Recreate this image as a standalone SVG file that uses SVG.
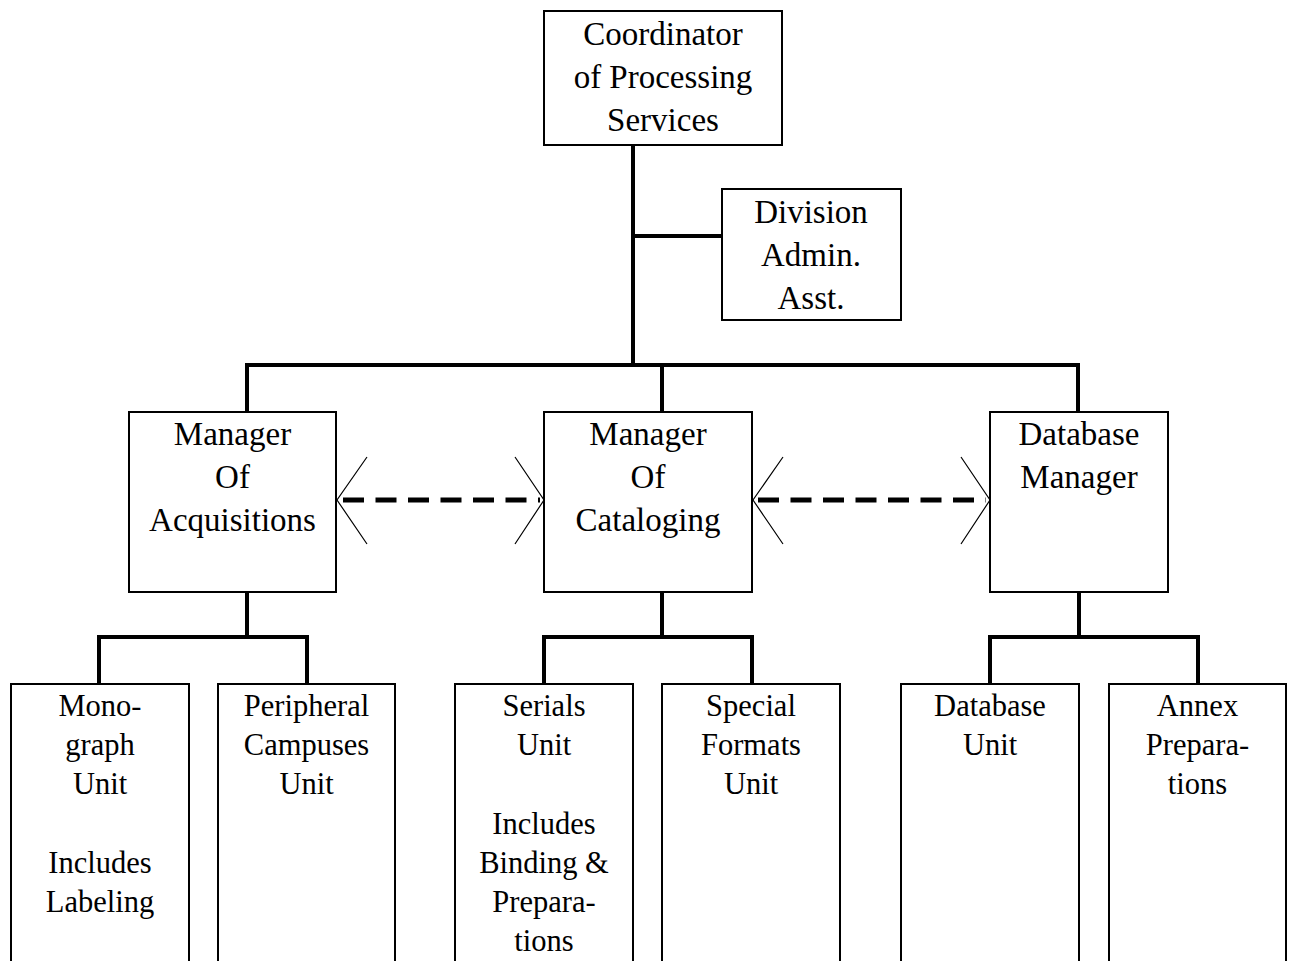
<svg xmlns="http://www.w3.org/2000/svg" width="1289" height="961" viewBox="0 0 1289 961">
<style>
.box{fill:#fff;stroke:#000;stroke-width:2}
.conn{fill:none;stroke:#000;stroke-width:4}
.dash{fill:none;stroke:#000;stroke-width:5;stroke-dasharray:21 11.5}
.head{fill:none;stroke:#000;stroke-width:1.2}
.t1{font-family:"Liberation Serif","Times New Roman",serif;font-size:33px;text-anchor:middle;fill:#000}
.t2{font-family:"Liberation Serif","Times New Roman",serif;font-size:30.5px;text-anchor:middle;fill:#000}
</style>
<rect width="1289" height="961" fill="#fff"/>
<g id="connectors">
<path class="conn" d="M633,145 V365 M633,236 H722 M247,365 H1079 M247,363 V412 M662,363 V412 M1078,363 V412"/>
<path class="conn" d="M247,592 V637 M99,637 H307 M99,635 V684 M307,635 V684"/>
<path class="conn" d="M662,592 V637 M544,637 H752 M544,635 V684 M752,635 V684"/>
<path class="conn" d="M1079,592 V637 M990,637 H1198 M990,635 V684 M1198,635 V684"/>
<line class="dash" x1="343" y1="500" x2="540" y2="500"/>
<line class="dash" x1="758" y1="500" x2="986" y2="500"/>
<path class="head" d="M367,457 L337,500 L367,544 M515,457 L544,500 L515,544"/>
<path class="head" d="M783,457 L753,500 L783,544 M961,457 L990,500 L961,544"/>
</g>
<g id="coordinator">
<rect class="box" x="544" y="11" width="238" height="134"/>
<text class="t1" x="663" y="45">Coordinator</text>
<text class="t1" x="663" y="88">of Processing</text>
<text class="t1" x="663" y="131">Services</text>
</g>
<g id="division-admin">
<rect class="box" x="722" y="189" width="179" height="131"/>
<text class="t1" x="811" y="223">Division</text>
<text class="t1" x="811" y="266">Admin.</text>
<text class="t1" x="811" y="309">Asst.</text>
</g>
<g id="mgr-acquisitions">
<rect class="box" x="129" y="412" width="207" height="180"/>
<text class="t1" x="232.5" y="445">Manager</text>
<text class="t1" x="232.5" y="488">Of</text>
<text class="t1" x="232.5" y="531">Acquisitions</text>
</g>
<g id="mgr-cataloging">
<rect class="box" x="544" y="412" width="208" height="180"/>
<text class="t1" x="648" y="445">Manager</text>
<text class="t1" x="648" y="488">Of</text>
<text class="t1" x="648" y="531">Cataloging</text>
</g>
<g id="db-manager">
<rect class="box" x="990" y="412" width="178" height="180"/>
<text class="t1" x="1079" y="445">Database</text>
<text class="t1" x="1079" y="488">Manager</text>
</g>
<g id="monograph">
<rect class="box" x="11" y="684" width="178" height="290"/>
<text class="t2" x="100" y="716">Mono-</text>
<text class="t2" x="100" y="755">graph</text>
<text class="t2" x="100" y="794">Unit</text>
<text class="t2" x="100" y="873">Includes</text>
<text class="t2" x="100" y="912">Labeling</text>
</g>
<g id="peripheral">
<rect class="box" x="218" y="684" width="177" height="290"/>
<text class="t2" x="306.5" y="716">Peripheral</text>
<text class="t2" x="306.5" y="755">Campuses</text>
<text class="t2" x="306.5" y="794">Unit</text>
</g>
<g id="serials">
<rect class="box" x="455" y="684" width="178" height="290"/>
<text class="t2" x="544" y="716">Serials</text>
<text class="t2" x="544" y="755">Unit</text>
<text class="t2" x="544" y="834">Includes</text>
<text class="t2" x="544" y="873">Binding &amp;</text>
<text class="t2" x="544" y="912">Prepara-</text>
<text class="t2" x="544" y="951">tions</text>
</g>
<g id="special-formats">
<rect class="box" x="662" y="684" width="178" height="290"/>
<text class="t2" x="751" y="716">Special</text>
<text class="t2" x="751" y="755">Formats</text>
<text class="t2" x="751" y="794">Unit</text>
</g>
<g id="database-unit">
<rect class="box" x="901" y="684" width="178" height="290"/>
<text class="t2" x="990" y="716">Database</text>
<text class="t2" x="990" y="755">Unit</text>
</g>
<g id="annex">
<rect class="box" x="1109" y="684" width="177" height="290"/>
<text class="t2" x="1197.5" y="716">Annex</text>
<text class="t2" x="1197.5" y="755">Prepara-</text>
<text class="t2" x="1197.5" y="794">tions</text>
</g>
</svg>
